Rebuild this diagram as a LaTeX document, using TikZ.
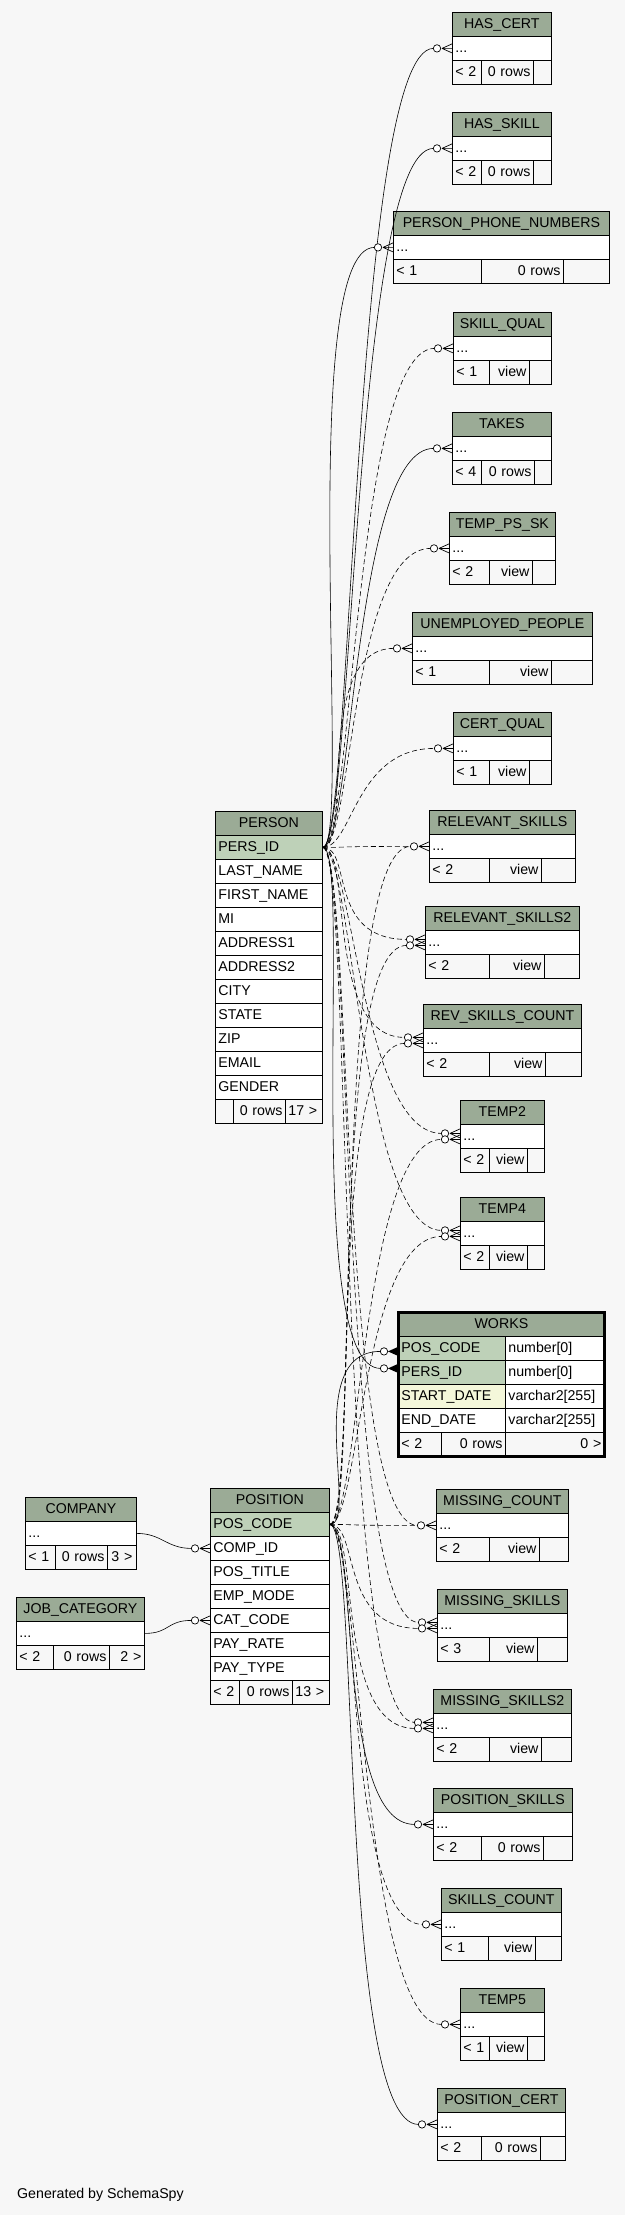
\documentclass[tikz,border=0pt]{standalone}
\usepackage{fontspec}
\setmainfont{Liberation Sans}
\usepackage{tikz}

\definecolor{hdr}{HTML}{9BAB96}
\definecolor{pkc}{HTML}{BED1B8}
\definecolor{ixc}{HTML}{F4F7DA}
\definecolor{bg}{HTML}{F7F7F7}

\newcommand{\tabfont}{\fontsize{14.2}{17}\selectfont}
\newcommand{\smalltable}[9]{%
  \pgfmathsetmacro\wall{#4-#2-6}%
  \pgfmathsetmacro\wone{#6-#2-6}%
  \pgfmathsetmacro\wtwo{#7-#6-6}%
  \pgfmathsetmacro\wthree{#4-#7-6}%
  \node[hd, text width=\wall pt] (#1-head) at (#2,#3) {#5};
  \node[rw, text width=\wall pt] (#1) at (#2,{#3+24}) {...};
  \node[ft, text width=\wone pt, align=left] (#1-f1) at (#2,{#3+48}) {#8};
  \node[ft, text width=\wtwo pt, align=right] (#1-f2) at (#6,{#3+48}) {#9};
  \node[ft, text width=\wthree pt, align=right] (#1-f3) at (#7,{#3+48}) {};
}

\begin{document}
\begin{tikzpicture}
  [x=1pt, y=-1pt,
   box/.style={draw, line width=0.8pt, anchor=north west, minimum height=24pt,
     inner xsep=3pt, inner ysep=0pt, font=\tabfont, text height=10.5pt, text depth=3pt},
   hd/.style={box, fill=hdr, align=center},
   rw/.style={box, fill=white, align=left},
   pk/.style={rw, fill=pkc},
   ix/.style={rw, fill=ixc},
   ft/.style={box, fill=bg},
   fk/.style={line width=0.6pt},
   imp/.style={fk, dash pattern=on 5pt off 3pt},
   many/.pic={
     \draw[line width=0.7pt] (-10,0) -- (0,-4.5) (-10,0) -- (0,0) (-10,0) -- (0,4.5);
     \draw[line width=0.7pt, fill=white] (-15,0) circle (3.7);
   },
   manybold/.pic={
     \fill (-10,0) -- (0,-4.5) -- (0,4.5) -- cycle;
     \draw[line width=0.7pt, fill=white] (-14,0) circle (3.7);
   }]
  \fill[bg] (0,0) rectangle (625,2215);

  \smalltable{hascert}{452}{12}{551}{HAS\_CERT}{481}{533}{< 2}{0 rows}
  \smalltable{hasskill}{452}{112}{551}{HAS\_SKILL}{481}{533}{< 2}{0 rows}
  \smalltable{phone}{393}{211}{609}{PERSON\_PHONE\_NUMBERS}{481}{563}{< 1}{0 rows}
  \smalltable{skillqual}{453}{312}{551}{SKILL\_QUAL}{489}{529}{< 1}{view}
  \smalltable{takes}{452}{412}{551}{TAKES}{481}{534}{< 4}{0 rows}
  \smalltable{tempps}{449}{512}{555}{TEMP\_PS\_SK}{489}{532}{< 2}{view}
  \smalltable{unemployed}{412}{612}{592}{UNEMPLOYED\_PEOPLE}{489}{551}{< 1}{view}
  \smalltable{certqual}{453}{712}{551}{CERT\_QUAL}{489}{529}{< 1}{view}
  \smalltable{relskills}{429}{810}{575}{RELEVANT\_SKILLS}{489}{541}{< 2}{view}
  \smalltable{relskills2}{425}{906}{579}{RELEVANT\_SKILLS2}{489}{544}{< 2}{view}
  \smalltable{revcount}{423}{1004}{581}{REV\_SKILLS\_COUNT}{489}{545}{< 2}{view}
  \smalltable{temptwo}{460}{1100}{544}{TEMP2}{489}{527}{< 2}{view}
  \smalltable{tempfour}{460}{1197}{544}{TEMP4}{489}{527}{< 2}{view}
  \smalltable{misscount}{436}{1489}{568}{MISSING\_COUNT}{489}{539}{< 2}{view}
  \smalltable{missskills}{437}{1589}{567}{MISSING\_SKILLS}{489}{537}{< 3}{view}
  \smalltable{missskills2}{433}{1689}{571}{MISSING\_SKILLS2}{489}{541}{< 2}{view}
  \smalltable{posskills}{433}{1788}{572}{POSITION\_SKILLS}{481}{543}{< 2}{0 rows}
  \smalltable{skillscount}{441}{1888}{561}{SKILLS\_COUNT}{488}{535}{< 1}{view}
  \smalltable{tempfive}{460}{1988}{544}{TEMP5}{489}{527}{< 1}{view}
  \smalltable{poscert}{437}{2088}{565}{POSITION\_CERT}{481}{540}{< 2}{0 rows}
  \smalltable{company}{25}{1497}{136}{COMPANY}{55}{107}{< 1}{0 rows}
  \node[ft, text width=23pt, align=center] (company-f3) at (107,1545) {3 >};
  \smalltable{jobcat}{16}{1597}{144}{JOB\_CATEGORY}{53}{109}{< 2}{0 rows}
  \node[ft, text width=29pt, align=right] (jobcat-f3) at (109,1645) {2 >};

  \node[hd, text width=101pt] (person-head) at (215,811) {PERSON};
  \node[pk, text width=101pt] (persid) at (215,835) {PERS\_ID};
  \foreach \c [count=\i] in {LAST\_NAME,FIRST\_NAME,MI,ADDRESS1,ADDRESS2,CITY,STATE,ZIP,EMAIL,GENDER}
    \node[rw, text width=101pt] (person-\i) at (215,{835+24*\i}) {\c};
  \node[ft, text width=12pt] (person-f1) at (215,1099) {};
  \node[ft, text width=46pt, align=right] (person-f2) at (233,1099) {0 rows};
  \node[ft, text width=31pt, align=left] (person-f3) at (285,1099) {17 >};

  \node[hd, text width=113pt] (position-head) at (210,1488) {POSITION};
  \node[pk, text width=113pt] (poscode) at (210,1512) {POS\_CODE};
  \foreach \c/\n [count=\i] in {COMP\_ID/compid,POS\_TITLE/postitle,EMP\_MODE/empmode,CAT\_CODE/catcode,PAY\_RATE/payrate,PAY\_TYPE/paytype}
    \node[rw, text width=113pt] (\n) at (210,{1512+24*\i}) {\c};
  \node[ft, text width=23pt, align=left] (position-f1) at (210,1680) {< 2};
  \node[ft, text width=47pt, align=right] (position-f2) at (239,1680) {0 rows};
  \node[ft, text width=31pt, align=left] (position-f3) at (292,1680) {13 >};

  \node[hd, text width=200pt] (works-head) at (398,1312) {WORKS};
  \node[pk, text width=101pt] (wposcode) at (398,1336) {POS\_CODE};
  \node[rw, text width=93pt] (wposcode-t) at (505,1336) {number[0]};
  \node[pk, text width=101pt] (wpersid) at (398,1360) {PERS\_ID};
  \node[rw, text width=93pt] (wpersid-t) at (505,1360) {number[0]};
  \node[ix, text width=101pt] (wstart) at (398,1384) {START\_DATE};
  \node[rw, text width=93pt] (wstart-t) at (505,1384) {varchar2[255]};
  \node[rw, text width=101pt] (wend) at (398,1408) {END\_DATE};
  \node[rw, text width=93pt] (wend-t) at (505,1408) {varchar2[255]};
  \node[ft, text width=37pt, align=left] (works-f1) at (398,1432) {< 2};
  \node[ft, text width=58pt, align=right] (works-f2) at (441,1432) {0 rows};
  \node[ft, text width=93pt, align=right] (works-f3) at (505,1432) {0 >};
  \draw[line width=3pt] (works-head.north west) rectangle (works-f3.south east);

  \foreach \t in {hascert,hasskill,phone,takes}
    \draw[fk] (persid.east) .. controls +(30,0) and +(-80,0) .. ([xshift=-18.5pt]\t.west);
  \foreach \t in {skillqual,tempps,unemployed,certqual,relskills,misscount}
    \draw[imp] (persid.east) .. controls +(30,0) and +(-80,0) .. ([xshift=-18.5pt]\t.west);
  \foreach \t in {relskills2,revcount,temptwo,tempfour,missskills,missskills2}{
    \draw[imp] (persid.east) .. controls +(30,0) and +(-80,0) .. ([xshift=-18.5pt,yshift=3pt]\t.west);
    \draw[imp] (poscode.east) .. controls +(30,0) and +(-80,0) .. ([xshift=-18.5pt,yshift=-3pt]\t.west);
  }
  \foreach \t in {relskills,misscount,skillscount,tempfive}
    \draw[imp] (poscode.east) .. controls +(30,0) and +(-80,0) .. ([xshift=-18.5pt]\t.west);
  \foreach \t in {posskills,poscert}
    \draw[fk] (poscode.east) .. controls +(30,0) and +(-80,0) .. ([xshift=-18.5pt]\t.west);
  \draw[fk] (persid.east) .. controls +(30,0) and +(-80,0) .. ([xshift=-17.5pt,yshift=4pt]wpersid.west);
  \draw[fk] (poscode.east) .. controls +(30,0) and +(-80,0) .. ([xshift=-17.5pt,yshift=-3pt]wposcode.west);
  \draw[fk] (company.east) .. controls +(25,0) and +(-25,0) .. ([xshift=-18.5pt]compid.west);
  \draw[fk] (jobcat.east) .. controls +(25,0) and +(-25,0) .. ([xshift=-18.5pt]catcode.west);

  \foreach \t in {hascert,hasskill,phone,skillqual,takes,tempps,unemployed,certqual,relskills,misscount,skillscount,tempfive,posskills,poscert,compid,catcode}
    \pic at (\t.west) {many};
  \foreach \t in {relskills2,revcount,temptwo,tempfour,missskills,missskills2}{
    \pic at ([yshift=3pt]\t.west) {many};
    \pic at ([yshift=-3pt]\t.west) {many};
  }
  \pic at ([yshift=4pt]wpersid.west) {manybold};
  \pic at ([yshift=-3pt]wposcode.west) {manybold};

  \node[anchor=west, inner sep=3pt, font=\tabfont] (credit) at (14,2195) {Generated by SchemaSpy};
\end{tikzpicture}
\end{document}
